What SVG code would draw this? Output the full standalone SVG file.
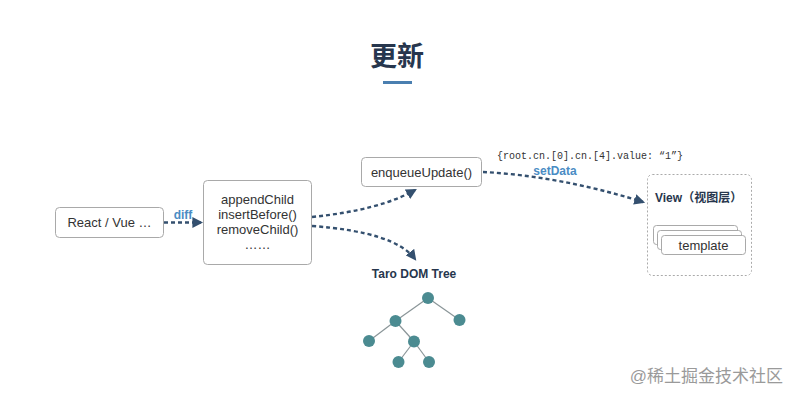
<svg xmlns="http://www.w3.org/2000/svg" width="797" height="400" viewBox="0 0 797 400">
<defs>
<style>
.node{fill:#fff;stroke:#a9a9a9;stroke-width:1}
.t{font-family:"Helvetica Neue","Liberation Sans",Arial,sans-serif;font-size:13px;fill:#333;text-anchor:middle}
.lbl{font-family:"Liberation Sans",Arial,sans-serif;font-size:12px;font-weight:bold;fill:#4a8cc4}
.conn{fill:none;stroke:#34506f;stroke-width:2.4;stroke-dasharray:4 3}
.tl{stroke:#8a9598;stroke-width:1.2}
.tn{fill:#4b8b91}
</style>
<marker id="arr" viewBox="0 0 10 10" refX="8" refY="5" markerWidth="4.5" markerHeight="4.5" orient="auto" markerUnits="strokeWidth">
<path d="M0,0 L10,5 L0,10 z" fill="#34506f"/>
</marker>
</defs>
<rect width="797" height="400" fill="#fff"/>
<g id="title">
<text x="397" y="66" text-anchor="middle" font-family="'Noto Sans CJK SC',sans-serif" font-size="27" font-weight="bold" fill="#27364d">更新</text>
<rect x="383" y="81" width="29" height="3" fill="#4a7fb0"/>
</g>
<g id="connectors">
<path class="conn" d="M164,222.5 L201,222.5" marker-end="url(#arr)"/>
<path class="conn" d="M312,217 Q380,210 415,190" marker-end="url(#arr)"/>
<path class="conn" d="M312,226 Q395,232 415,259" marker-end="url(#arr)"/>
<path class="conn" d="M483,172 Q560,176 643,202" marker-end="url(#arr)"/>
<text class="lbl" x="183" y="219" text-anchor="middle">diff</text>
<text class="lbl" x="555" y="175" text-anchor="middle">setData</text>
</g>
<g id="react">
<rect class="node" x="55.5" y="207.5" width="108" height="30" rx="4"/>
<text class="t" x="109.5" y="227">React / Vue …</text>
</g>
<g id="dom-api">
<rect class="node" x="203.5" y="180.5" width="108" height="84" rx="4"/>
<text class="t" x="257.5" y="204">appendChild</text>
<text class="t" x="257.5" y="219">insertBefore()</text>
<text class="t" x="257.5" y="234">removeChild()</text>
<text class="t" x="257.5" y="249">……</text>
</g>
<g id="enqueue">
<rect class="node" x="361.5" y="157.5" width="120" height="29" rx="4"/>
<text class="t" x="421.5" y="177">enqueueUpdate()</text>
</g>
<g id="json">
<text x="497" y="158.5" font-family="'Liberation Mono','DejaVu Sans Mono',monospace" font-size="10" fill="#333">{root.cn.[0].cn.[4].value: “1”}</text>
</g>
<g id="view">
<rect x="647.5" y="174.5" width="104" height="101" rx="5" fill="#fff" stroke="#aaa" stroke-width="1" stroke-dasharray="2 2"/>
<text x="655" y="202" font-family="'Liberation Sans','Noto Sans CJK SC',sans-serif" font-size="12" font-weight="bold" fill="#27364d">View（视图层）</text>
<rect class="node" x="653.5" y="225.5" width="84" height="19" rx="3"/>
<rect class="node" x="657.5" y="230.5" width="84" height="19" rx="3"/>
<rect class="node" x="661.5" y="235.5" width="84" height="19" rx="3"/>
<text class="t" x="703.5" y="250">template</text>
</g>
<g id="tree">
<text x="414" y="278" text-anchor="middle" font-family="'Liberation Sans',Arial,sans-serif" font-size="12" font-weight="bold" fill="#27364d">Taro DOM Tree</text>
<line class="tl" x1="428" y1="298" x2="395.5" y2="321"/>
<line class="tl" x1="428" y1="298" x2="459.5" y2="320"/>
<line class="tl" x1="395.5" y1="321" x2="369" y2="341"/>
<line class="tl" x1="395.5" y1="321" x2="414" y2="341.5"/>
<line class="tl" x1="414" y1="341.5" x2="398.5" y2="362"/>
<line class="tl" x1="414" y1="341.5" x2="429" y2="362"/>
<circle class="tn" cx="428" cy="298" r="6"/>
<circle class="tn" cx="395.5" cy="321" r="6"/>
<circle class="tn" cx="459.5" cy="320" r="6"/>
<circle class="tn" cx="369" cy="341" r="6"/>
<circle class="tn" cx="414" cy="341.5" r="6"/>
<circle class="tn" cx="398.5" cy="362" r="6"/>
<circle class="tn" cx="429" cy="362" r="6"/>
</g>
<g id="watermark">
<text x="783" y="382" text-anchor="end" font-family="'Liberation Sans','Noto Sans CJK SC',sans-serif" font-size="17" fill="#9a9a9a">@稀土掘金技术社区</text>
</g>
</svg>
